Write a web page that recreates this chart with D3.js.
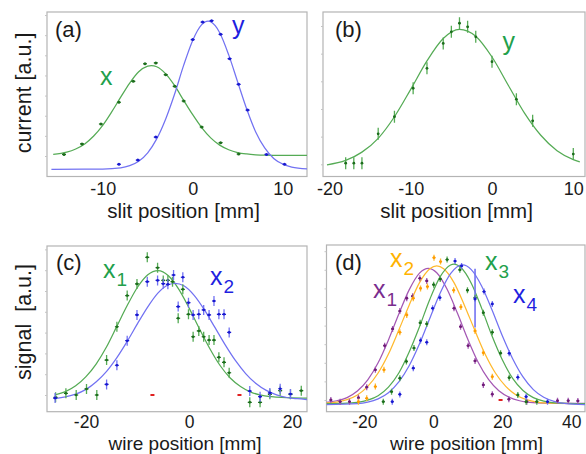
<!DOCTYPE html>
<html>
<head>
<meta charset="utf-8">
<script src="https://cdn.jsdelivr.net/npm/d3@7"></script>
<style>
  body { margin: 0; background: #fff; }
  text { font-family: "Liberation Sans", Arial, sans-serif; }
</style>
</head>
<body>
<svg id="fig" width="586" height="454"></svg>
<script>
// ---- panel (a): slit scan, current vs slit position ----
const aXTicks = [-10, 0, 10];
const aGreenPts = [[-14.3,0.08],[-12.3,0.6],[-10.2,1.59],[-8.2,2.67],[-6.6,3.71],[-5.3,4.58],[-4.1,4.62],
  [-3.0,4.04],[-2.0,3.46],[-1.0,2.73],[1.0,1.44],[3.1,0.66],[5.1,0.1]];
const aBluePts = [[-8.2,-0.41],[-6.1,-0.2],[-4.1,0.94],[0,5.78],[1.1,6.65],[2.1,6.72],[3.1,6.04],
  [4.1,4.83],[5.1,3.56],[6.1,2.28],[8.2,0.08],[10.2,-0.41]];
const aGreenFitX = [-15.5,-14,-13,-12,-11,-10,-9,-8,-7,-6,-5,-4.6,-4,-3,-2,-1,0,1,2,3,4,5,6,7,8,10,12.7];
const aGreenFitY = [0.08,0.19,0.35,0.60,0.99,1.52,2.19,2.92,3.62,4.18,4.46,4.49,4.43,4.08,3.49,2.76,2.05,
  1.41,0.90,0.54,0.31,0.17,0.10,0.06,0.04,0.03,0.03];
const aBlueFitX = [-15.7,-10,-8,-7,-6,-5,-4,-3,-2,-1,0,1,1.7,2.5,3,4,5,6,7,8,9,10,11,12.7];
const aBlueFitY = [-0.66,-0.65,-0.59,-0.48,-0.26,0.16,0.85,1.84,3.09,4.51,5.74,6.52,6.70,6.47,6.12,5.02,
  3.67,2.33,1.19,0.40,-0.12,-0.40,-0.55,-0.64];

// ---- panel (b) ----
const bXTicks = [-20, -10, 0, 10];
const bGreenPts = [[-18,0.04],[-17,0.04],[-16,0.04],[-14,1.1],[-12,1.72],[-9.7,2.75],[-8,3.47],[-6,4.37],
  [-5,4.79],[-4,5.1],[-3,4.97],[-2,4.61],[0,3.71],[3,2.35],[5,1.57],[10,0.37]];
const bGreenFitX = [-20.3,-18,-16,-14,-12,-10,-8,-6,-4,-2,0,2,4,6,8,10,10.8];
const bGreenFitY = [-0.02,0.14,0.44,0.94,1.72,2.71,3.74,4.55,4.88,4.63,3.88,2.86,1.85,1.05,0.49,0.17,0.09];

// ---- panel (c): wire scan ----
const cXTicks = [-20, 0, 20];
const cGreenPts = [[-25.9,-0.11],[-23.9,0.08],[-21.9,0],[-19.9,0.29],[-17.9,0],[-16,1.68],[-14,3.28],
  [-12,4.78],[-10.1,5.34],[-8.1,6.62],[-6.1,6.12],[-5,5.51],[-4.1,5.51],[-3.2,5.45],[-1.2,5.08],[-2.1,3.69],
  [-0.1,3.88],[0.8,2.8],[1.9,3.08],[2.85,2.8],[3.9,2.64],[4.85,2.64],[5.8,1.81],[6.8,1.57],[7.8,1.07],
  [11.8,-0.35],[13.8,-0.35],[15.7,0.03],[17.7,0.21],[19.7,0.03],[21.8,0.21]];
const cBluePts = [[-26,-0.15],[-16,0.51],[-14,1.43],[-12,2.61],[-10.1,3.85],[-8.1,5.45],[-6.1,5.51],
  [-5,5.35],[-4.1,5.32],[-3,5.77],[-2.1,4.25],[-1.2,5.66],[-0.1,4.44],[0.8,3.85],[1.9,3.88],[2.85,4.09],
  [3.9,3.85],[4.85,4.52],[5.8,3.88],[6.8,3.88],[7.8,3.01],[11.8,0.19],[13.8,-0.08],[15.7,0.1],[17.7,0.3],
  [19.7,0.05]];
const cRedPts = [[-7.1,0],[9.8,0]];
const cGreenFitX = [-26,-24,-22,-20,-18,-16,-14,-12,-10,-8,-6,-4,-2,0,2,4,6,8,10,12,14,16,18,20,22.9];
const cGreenFitY = [0.01,0.16,0.44,0.88,1.50,2.32,3.31,4.30,5.18,5.78,5.98,5.73,5.09,4.19,3.20,2.25,1.43,
  0.82,0.41,0.14,-0.01,-0.08,-0.12,-0.14,-0.15];
const cBlueFitX = [-26,-24,-22,-20,-18,-16,-14,-12,-10,-8,-6,-4,-2.7,-1,1,3,5,7,9,11,13,15,17,19,21,22.9];
const cBlueFitY = [-0.17,-0.09,0.04,0.27,0.64,1.14,1.80,2.58,3.43,4.24,4.91,5.30,5.37,5.25,4.79,4.09,3.26,
  2.42,1.66,1.03,0.55,0.22,0.01,-0.12,-0.18,-0.22];

// ---- panel (d) ----
const dXTicks = [-20, 0, 20, 40];
const dPurplePts = [[-29.7,0],[-27,-0.09],[-24.3,-0.09],[-21.7,0.12],[-19.3,0.69],[-16.8,1.62],[-14.1,2.92],
  [-11.8,3.82],[-9.7,4.78],[-7.7,5.47],[-6,5.58],[-3.9,6.54],[-1.9,6.4],[6,4.93],[7.9,3.94],[10.1,2.92],
  [12.1,2.1],[14.5,0.81],[17.1,0.31],[21.9,0.04],[27.1,-0.09],[36,-0.04],[39.1,-0.04],[41.9,-0.05]];
const dOrangePts = [[-21.7,-0.09],[-19.3,0.09],[-16.8,0.72],[-14.3,1.62],[-9.7,3.64],[-7.7,4.57],[-5.8,5.47],
  [-3.7,6.0],[-1.7,6.1],[0.2,7.65],[2.1,7.44],[5.9,5.9],[8.0,5.0],[12.1,3.71],[14.5,2.54],[17.1,1.25]];
const dGreenPts = [[-14.5,-0.09],[-12.1,0.45],[-9.7,1.17],[-7.8,2.07],[-5.6,2.79],[-3.8,4.15],[-1.9,4.09],
  [0.1,6.2],[2,6.5],[4,7.55],[7.7,7.0],[9.9,5.9],[12.1,5.5],[14.5,4.69],[17.1,3.64],[19.5,2.52],[22,1.2],
  [24.5,0.27],[26.9,-0.09],[30,-0.09]];
const dBluePts = [[-11.9,-0.09],[-9.7,0.3],[-5.8,1.71],[-3.7,3.2],[-1.9,3.1],[-0.2,4.93],[1.9,5.5],
  [6.3,7.47],[8.2,7.21],[12.1,5.43],[14.7,5.83],[17.1,5.16],[22,2.51],[24.5,1.22],[26.9,0.18],[33.1,-0.09]];
const dBlueBar = [[12.1, 3.9, 7.05]];
const dRedPts = [[19.5,0]];
const dPurpleFitX = [-31,-28,-25,-22,-19,-16,-13,-10,-7,-4,-1.45,1,4,7,10,13,16,19,22,25,28,32,44];
const dPurpleFitY = [-0.13,-0.04,0.13,0.48,1.08,2.00,3.23,4.62,5.92,6.82,7.08,6.84,5.95,4.66,3.27,2.03,1.11,
  0.50,0.15,-0.04,-0.13,-0.17,-0.18];
const dOrangeFitX = [-31,-28,-25,-22,-19,-16,-13,-10,-7,-4,-1,1,3,6,9,12,15,18,21,24,27,30,34,44];
const dOrangeFitY = [-0.16,-0.11,0.02,0.27,0.73,1.45,2.47,3.76,5.10,6.31,7.06,7.21,7.06,6.31,5.10,3.76,2.47,
  1.45,0.73,0.27,0.02,-0.11,-0.17,-0.2];
const dGreenFitX = [-31,-25,-22,-19,-16,-13,-10,-7,-4,-1,2,5,6,8,11,14,17,20,23,26,29,32,35,44];
const dGreenFitY = [-0.2,-0.17,-0.13,-0.01,0.23,0.69,1.45,2.58,3.94,5.42,6.63,7.26,7.3,7.12,6.28,4.94,3.45,
  2.16,1.16,0.51,0.13,-0.06,-0.15,-0.2];
const dBlueFitX = [-31,-22,-19,-16,-13,-10,-7,-4,-1,2,5,8.5,11,14,17,20,23,26,29,32,35,38,44];
const dBlueFitY = [-0.25,-0.20,-0.12,0.06,0.39,0.97,1.84,3.02,4.40,5.75,6.79,7.26,7.01,6.13,4.85,3.45,2.22,
  1.24,0.56,0.15,-0.07,-0.18,-0.25];

// colours: [curve, marker, label]
const GREEN  = ['#55ab55', '#1c6e1c', '#22a04b'];
const BLUE   = ['#7272f2', '#1818d0', '#1f1fe0'];
const PURPLE = ['#a458b4', '#701c78', '#7a2d8e'];
const ORANGE = ['#ffb92e', '#ff9c00', '#ffb300'];
const RED    = ['#e02020', '#e02020', '#e02020'];

const svg = d3.select('#fig');

const panels = [
  { id: 'a', left: 47, right: 307, top: 12, bottom: 176.5, xdom: [-16.19, 12.7], ydom: [-1.018, 7.15],
    nTicks: 8, xticks: aXTicks, pad: 5.9, fs: 18, mark: { ex: 2, ey: 0, r: 1.5 },
    series: [
      { pts: aGreenPts, fx: aGreenFitX, fy: aGreenFitY, col: GREEN },
      { pts: aBluePts, fx: aBlueFitX, fy: aBlueFitY, col: BLUE }
    ] },
  { id: 'b', left: 323, right: 585, top: 12, bottom: 176.5, xdom: [-20.79, 11.44], ydom: [-0.441, 5.506],
    nTicks: 6, xticks: bXTicks, pad: 5.9, fs: 18, mark: { ex: 0.8, ey: 6, r: 1.4 },
    series: [
      { pts: bGreenPts, fx: bGreenFitX, fy: bGreenFitY, col: GREEN }
    ] },
  { id: 'c', left: 47, right: 307, top: 246, bottom: 411.7, xdom: [-27.57, 22.91], ydom: [-0.803, 7.163],
    nTicks: 8, xticks: cXTicks, pad: 4, fs: 17.5, mark: { ex: 2, ey: 5, r: 1.3 },
    series: [
      { pts: cGreenPts, fx: cGreenFitX, fy: cGreenFitY, col: GREEN },
      { pts: cBluePts, fx: cBlueFitX, fy: cBlueFitY, col: BLUE },
      { pts: cRedPts, col: RED, dash: true }
    ] },
  { id: 'd', left: 326.5, right: 585, top: 245, bottom: 411.7, xdom: [-30.96, 43.97], ydom: [-0.629, 8.333],
    nTicks: 9, xticks: dXTicks, pad: 4, fs: 17.5, mark: { ex: 1.5, ey: 3, r: 1.4 },
    series: [
      { pts: dPurplePts, fx: dPurpleFitX, fy: dPurpleFitY, col: PURPLE },
      { pts: dOrangePts, fx: dOrangeFitX, fy: dOrangeFitY, col: ORANGE },
      { pts: dGreenPts, fx: dGreenFitX, fy: dGreenFitY, col: GREEN },
      { pts: dBluePts, fx: dBlueFitX, fy: dBlueFitY, col: BLUE, bars: dBlueBar },
      { pts: dRedPts, col: RED, dash: true }
    ] }
];

panels.forEach(drawPanel);

function drawPanel(p) {
  const x = d3.scaleLinear().domain(p.xdom).range([p.left, p.right]);
  const y = d3.scaleLinear().domain(p.ydom).range([p.bottom, p.top]);

  // frame
  svg.append('rect')
    .attr('x', p.left).attr('y', p.top)
    .attr('width', p.right - p.left).attr('height', p.bottom - p.top)
    .attr('fill', 'none').attr('stroke', '#b4b4b4').attr('stroke-width', 1.2);

  // unlabeled y ticks
  const ya = svg.append('g')
    .attr('transform', `translate(${p.left},0)`)
    .call(d3.axisLeft(y).tickValues(d3.range(p.nTicks)).tickSize(2).tickFormat(''));
  ya.select('.domain').remove();
  ya.selectAll('line').attr('stroke', '#c4c4c4');

  // x tick labels (plain hyphen for negatives, as in the figure)
  const xa = svg.append('g')
    .attr('transform', `translate(0,${p.bottom})`)
    .call(d3.axisBottom(x).tickValues(p.xticks).tickSize(0).tickPadding(p.pad).tickFormat(d => String(d)));
  xa.select('.domain').remove();
  xa.selectAll('text')
    .style('font-family', '"Liberation Sans", Arial, sans-serif')
    .style('font-size', p.fs + 'px').attr('fill', '#1a1a1a');

  // clip region
  svg.append('clipPath').attr('id', `clip-${p.id}`)
    .append('rect')
    .attr('x', p.left).attr('y', p.top)
    .attr('width', p.right - p.left).attr('height', p.bottom - p.top);
  const g = svg.append('g').attr('clip-path', `url(#clip-${p.id})`);

  const line = d3.line().x(d => x(d[0])).y(d => y(d[1])).curve(d3.curveMonotoneX);

  // fit curves
  p.series.filter(s => s.fx).forEach(s => {
    g.append('path')
      .datum(d3.zip(s.fx, s.fy))
      .attr('d', line)
      .attr('fill', 'none')
      .attr('stroke', s.col[0])
      .attr('stroke-width', 1.25);
  });

  // long error bars
  p.series.filter(s => s.bars).forEach(s => {
    g.selectAll(null).data(s.bars).enter().append('line')
      .attr('x1', d => x(d[0])).attr('x2', d => x(d[0]))
      .attr('y1', d => y(d[1])).attr('y2', d => y(d[2]))
      .attr('stroke', s.col[0]).attr('stroke-width', 1.6);
  });

  // data markers
  p.series.forEach(s => {
    const m = g.append('g').selectAll('g')
      .data(s.pts).enter().append('g')
      .attr('transform', d => `translate(${x(d[0])},${y(d[1])})`);
    if (s.dash) {
      m.append('line').attr('x1', -2).attr('x2', 2)
        .attr('stroke', s.col[1]).attr('stroke-width', 1.8);
      return;
    }
    if (p.mark.ey > 0) {
      m.append('line').attr('y1', -p.mark.ey).attr('y2', p.mark.ey)
        .attr('stroke', s.col[0]).attr('stroke-width', 1.3);
    }
    m.append('line').attr('x1', -p.mark.ex).attr('x2', p.mark.ex)
      .attr('stroke', s.col[1]).attr('stroke-width', 1.2);
    m.append('circle').attr('r', p.mark.r).attr('fill', s.col[1]);
  });
}

// axis titles
const titleFont = '"Liberation Sans", Arial, sans-serif';
function addText(tx, ty, str, size, color, anchor, rot) {
  const t = svg.append('text')
    .attr('transform', `translate(${tx},${ty})` + (rot ? ` rotate(${rot})` : ''))
    .attr('text-anchor', anchor || 'start')
    .style('font-family', titleFont)
    .style('font-size', size + 'px')
    .attr('fill', color)
    .text(str);
  return t;
}
addText(183.5, 217.5, 'slit position [mm]', 20.5, '#1a1a1a', 'middle');
addText(456.5, 217.5, 'slit position [mm]', 20.5, '#1a1a1a', 'middle');
addText(185, 449.8, 'wire position [mm]', 19, '#1a1a1a', 'middle');
addText(466.5, 449.8, 'wire position [mm]', 19, '#1a1a1a', 'middle');
addText(31, 93, 'current [a.u.]', 21.5, '#1a1a1a', 'middle', -90);
addText(31, 322, 'signal\u00a0\u00a0[a.u.]', 21.5, '#1a1a1a', 'middle', -90);

// panel letters
addText(55, 37, '(a)', 22, '#1a1a1a');
addText(335, 37, '(b)', 22, '#1a1a1a');
addText(56, 270, '(c)', 22, '#1a1a1a');
addText(335, 270, '(d)', 22, '#1a1a1a');

// series labels with subscripts
function seriesLabel(tx, ty, main, sub, color) {
  const t = addText(tx, ty, main, 25, color);
  if (sub) {
    t.append('tspan').attr('dx', 1).attr('dy', 7.5).style('font-size', '19px').text(sub);
  }
}
seriesLabel(100, 85, 'x', null, GREEN[2]);
seriesLabel(232, 34, 'y', null, BLUE[2]);
seriesLabel(502.5, 50, 'y', null, GREEN[2]);
seriesLabel(103, 278, 'x', '1', GREEN[2]);
seriesLabel(210, 285, 'x', '2', BLUE[2]);
seriesLabel(373, 298, 'x', '1', PURPLE[2]);
seriesLabel(390, 267, 'x', '2', ORANGE[2]);
seriesLabel(485, 270, 'x', '3', GREEN[2]);
seriesLabel(513, 303, 'x', '4', BLUE[2]);
</script>
</body>
</html>
